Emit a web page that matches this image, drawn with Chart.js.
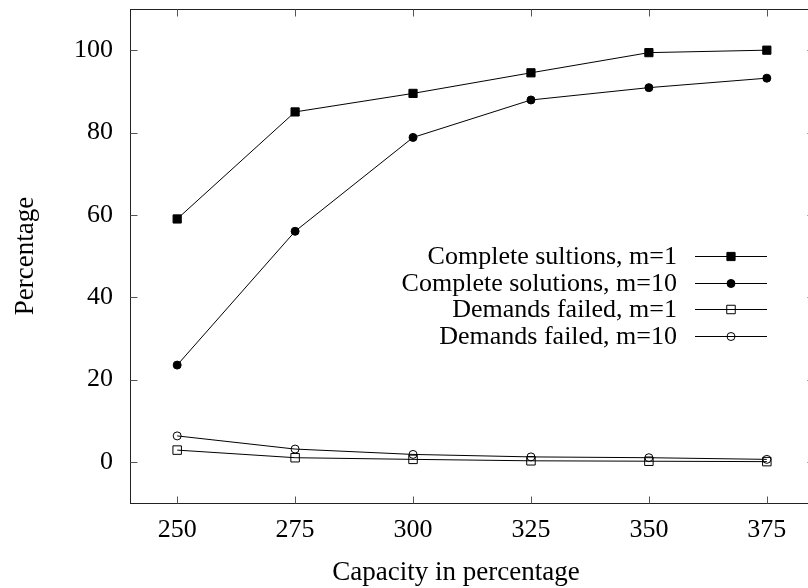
<!DOCTYPE html>
<html><head><meta charset="utf-8">
<script src="https://cdn.jsdelivr.net/npm/chart.js@4.4.1/dist/chart.umd.min.js"></script>
<style>html,body{margin:0;padding:0;overflow:hidden;background:#fff;width:808px;height:588px}canvas{display:block}</style>
</head><body>
<canvas id="c" width="830" height="588" style="width:830px;height:588px"></canvas>
<script>
const capacity = [250, 275, 300, 325, 350, 375];
const completeM1 = [59, 85, 89.5, 94.5, 99.4, 100];
const completeM10 = [23.5, 56, 78.8, 87.9, 90.9, 93.2];
const failedM1 = [2.85, 1.0, 0.6, 0.25, 0.15, 0.05];
const failedM10 = [6.3, 3.1, 1.8, 1.2, 1.0, 0.6];
const seriesLabels = ["Complete sultions, m=1", "Complete solutions, m=10", "Demands failed, m=1", "Demands failed, m=10"];
const xTicks = [250, 275, 300, 325, 350, 375];
const yTicks = [0, 20, 40, 60, 80, 100];
const xTitle = "Capacity in percentage";
const yTitle = "Percentage";

const FONT = "'Liberation Serif', 'Times New Roman', serif";
const pts = arr => capacity.map((x, i) => ({x, y: arr[i]}));

function ds(label, arr, style, radius, fill) {
  return {
    label, data: pts(arr),
    borderColor: '#000', borderWidth: 1,
    pointStyle: style, pointRadius: radius, pointHoverRadius: radius,
    pointBackgroundColor: fill, pointBorderColor: '#000', pointBorderWidth: 1,
    tension: 0, fill: false
  };
}

const framePlugin = {
  id: 'frame',
  beforeDatasetsDraw(chart) {
    const {ctx, chartArea: a, scales: {x, y}} = chart;
    ctx.save();
    ctx.strokeStyle = '#222';
    ctx.lineWidth = 1;
    const L = Math.round(a.left) + 0.5, R = Math.round(a.right) + 0.5;
    const T = Math.round(a.top) + 0.5, B = Math.round(a.bottom) + 0.5;
    ctx.strokeRect(L, T, R - L, B - T);
    ctx.strokeStyle = '#555';
    ctx.beginPath();
    const tl = 7;
    x.ticks.forEach(t => {
      const px = Math.round(x.getPixelForValue(t.value)) + 0.5;
      ctx.moveTo(px, B); ctx.lineTo(px, B - tl);
      ctx.moveTo(px, T); ctx.lineTo(px, T + tl);
    });
    y.ticks.forEach(t => {
      const py = Math.round(y.getPixelForValue(t.value)) + 0.5;
      ctx.moveTo(L, py); ctx.lineTo(L + tl, py);
      ctx.moveTo(R, py); ctx.lineTo(R - tl, py);
    });
    ctx.stroke();
    ctx.restore();
  },
  afterDraw(chart) {
    const {ctx, chartArea: a} = chart;
    ctx.save();
    ctx.fillStyle = '#000';
    ctx.font = `27px ${FONT}`;
    ctx.textAlign = 'center';
    ctx.textBaseline = 'middle';
    ctx.fillText(xTitle, 456, 573);
    ctx.translate(26, (a.top + a.bottom) / 2);
    ctx.rotate(-Math.PI / 2);
    ctx.fillText(yTitle, 0, 0);
    ctx.restore();
  }
};

const legendPlugin = {
  id: 'keybox',
  afterDatasetsDraw(chart) {
    const {ctx} = chart;
    ctx.save();
    ctx.font = `26px ${FONT}`;
    ctx.textAlign = 'right';
    ctx.textBaseline = 'middle';
    chart.data.datasets.forEach((d, i) => {
      const yy = 256 + i * 26.7;
      ctx.fillStyle = '#000';
      ctx.fillText(d.label, 677, yy + 1);
      ctx.strokeStyle = '#000';
      ctx.lineWidth = 1;
      ctx.beginPath();
      ctx.moveTo(695, Math.round(yy) + 0.5);
      ctx.lineTo(767, Math.round(yy) + 0.5);
      ctx.stroke();
      ctx.fillStyle = d.pointBackgroundColor;
      ctx.strokeStyle = '#000';
      Chart.helpers.drawPoint(ctx, {pointStyle: d.pointStyle, radius: d.pointRadius, rotation: 0, borderWidth: 1}, 731, Math.round(yy) + 0.5);
    });
    ctx.restore();
  }
};

new Chart(document.getElementById('c'), {
  type: 'line',
  data: {
    datasets: [
      ds(seriesLabels[0], completeM1, 'rect', 5.8, '#000'),
      ds(seriesLabels[1], completeM10, 'circle', 4, '#000'),
      ds(seriesLabels[2], failedM1, 'rect', 6, 'rgba(0,0,0,0)'),
      ds(seriesLabels[3], failedM10, 'circle', 4, 'rgba(0,0,0,0)')
    ]
  },
  options: {
    responsive: false,
    animation: false,
    devicePixelRatio: 1,
    layout: {padding: {left: 0, top: 9, right: 16, bottom: 0}},
    plugins: {legend: {display: false}, tooltip: {enabled: false}},
    scales: {
      x: {
        type: 'linear', min: 240, max: 385,
        afterBuildTicks: s => { s.ticks = xTicks.map(v => ({value: v})); },
        afterFit: s => { s.height = 85; s.paddingLeft = 0; s.paddingRight = 0; },
        grid: {display: false, drawTicks: false},
        border: {display: false},
        ticks: {font: {family: FONT, size: 26}, color: '#000', padding: 12, maxRotation: 0, autoSkip: false}
      },
      y: {
        type: 'linear', min: -10, max: 110,
        afterBuildTicks: s => { s.ticks = yTicks.map(v => ({value: v})); },
        afterFit: s => { s.width = 130; s.paddingTop = 0; s.paddingBottom = 0; },
        grid: {display: false, drawTicks: false},
        border: {display: false},
        ticks: {font: {family: FONT, size: 26}, color: '#000', padding: 17}
      }
    }
  },
  plugins: [framePlugin, legendPlugin]
});
</script>
</body></html>
